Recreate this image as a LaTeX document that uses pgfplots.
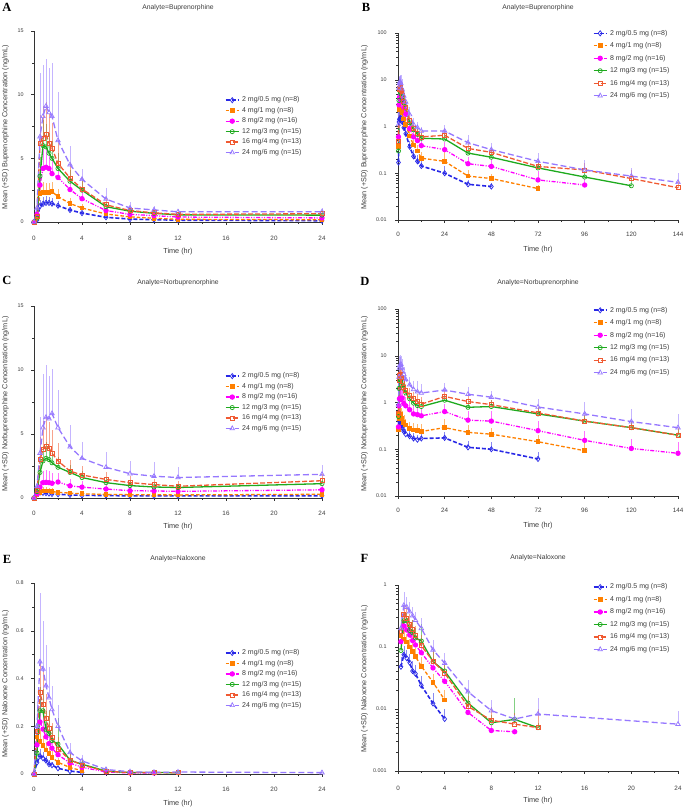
\documentclass[border=0pt]{standalone}
\usepackage{fontspec}
\setmainfont{Liberation Sans}
\newfontfamily\panelfont{Liberation Serif}
\usepackage{pgfplots}
\usepackage{pgfplotstable}
\pgfplotsset{compat=1.18}

\definecolor{cA}{RGB}{40,40,230}
\definecolor{cB}{RGB}{255,128,0}
\definecolor{cC}{RGB}{255,0,255}
\definecolor{cD}{RGB}{30,170,30}
\definecolor{cE}{RGB}{240,90,50}
\definecolor{cF}{RGB}{150,120,255}
\definecolor{ink}{RGB}{60,60,60}

% ---------------- Buprenorphine ----------------
\pgfplotstableread{
t m s
0 0 0
0.25 0.17 0.1
0.5 1.25 0.5
0.75 1.42 0.55
1 1.5 0.55
1.25 1.5 0.5
1.5 1.44 0.45
2 1.28 0.38
3 0.94 0.26
4 0.7 0.2
6 0.37 0.12
8 0.23 0.08
10 0.18 0.06
12 0.143 0.05
24 0.1 0.045
36 0.058 0.015
48 0.052 0.01
}\BuA
\pgfplotstableread{
t m s
0 0 0
0.25 0.38 0.2
0.5 2.25 0.8
0.75 2.32 0.85
1 2.3 0.8
1.25 2.32 0.75
1.5 2.38 0.75
2 2.0 0.6
3 1.45 0.42
4 1.1 0.35
6 0.63 0.2
8 0.4 0.12
10 0.3 0.1
12 0.21 0.08
24 0.18 0.15
36 0.087 0.03
48 0.077 0.02
72 0.047 0.01
}\BuB
\pgfplotstableread{
t m s
0 0 0
0.25 0.6 0.3
0.5 2.9 1.2
0.75 4.2 1.5
1 4.3 1.5
1.25 4.2 1.4
1.5 3.8 1.3
2 3.5 1.1
3 2.55 0.8
4 1.83 0.6
6 0.9 0.35
8 0.6 0.2
10 0.5 0.15
12 0.39 0.12
24 0.32 0.15
36 0.16 0.06
48 0.14 0.06
72 0.072 0.04
96 0.056 0.02
}\BuC
\pgfplotstableread{
t m s
0 0 0
0.25 0.3 0.2
0.5 3.6 1.5
0.75 6.0 2.0
1 5.9 1.8
1.25 5.4 1.6
1.5 5.0 1.4
2 4.2 1.2
3 3.2 0.9
4 2.5 0.7
6 1.2 0.35
8 0.85 0.25
10 0.68 0.2
12 0.56 0.15
24 0.54 0.15
36 0.27 0.08
48 0.22 0.06
72 0.13 0.04
96 0.083 0.03
120 0.054 0.02
}\BuD
\pgfplotstableread{
t m s
0 0 0
0.25 0.47 0.3
0.5 6.2 2.2
0.75 6.6 2.5
1 6.9 2.5
1.25 6.2 2.3
1.5 5.8 2.0
2 4.6 1.6
3 3.45 1.2
4 2.6 0.9
6 1.35 0.5
8 0.9 0.3
10 0.72 0.25
12 0.6 0.2
24 0.65 0.25
36 0.34 0.1
48 0.28 0.09
72 0.14 0.05
96 0.118 0.05
120 0.077 0.04
144 0.049 0.02
}\BuE
\pgfplotstableread{
t m s
0 0 0
0.25 1.1 0.8
0.5 6.7 5.0
0.75 8.3 4.0
1 9.1 3.7
1.25 8.6 3.5
1.5 8.3 4.2
2 6.4 3.8
3 4.5 1.5
4 3.35 0.8
6 1.8 0.85
8 1.1 0.45
10 0.95 0.3
12 0.8 0.2
24 0.8 0.3
36 0.45 0.2
48 0.32 0.12
72 0.18 0.09
96 0.118 0.07
120 0.087 0.04
144 0.064 0.035
}\BuF
% ---------------- Norbuprenorphine ----------------
\pgfplotstableread{
t m s
0 0 0
0.25 0.3 0.1
0.5 0.42 0.15
0.75 0.4 0.15
1 0.38 0.12
1.25 0.35 0.1
1.5 0.32 0.1
2 0.29 0.08
3 0.24 0.07
4 0.21 0.06
6 0.19 0.05
8 0.17 0.05
10 0.16 0.04
12 0.17 0.05
24 0.175 0.06
36 0.11 0.04
48 0.1 0.04
72 0.062 0.025
}\NoA
\pgfplotstableread{
t m s
0 0 0
0.25 0.26 0.08
0.5 0.45 0.2
0.75 0.55 0.3
1 0.55 0.3
1.25 0.55 0.25
1.5 0.5 0.25
2 0.45 0.2
3 0.38 0.15
4 0.33 0.12
6 0.28 0.1
8 0.26 0.1
10 0.25 0.1
12 0.24 0.1
24 0.29 0.15
36 0.23 0.1
48 0.21 0.08
72 0.145 0.06
96 0.093 0.04
}\NoB
\pgfplotstableread{
t m s
0 0 0
0.25 0.3 0.15
0.5 0.85 0.5
0.75 1.2 0.9
1 1.22 1.0
1.25 1.2 0.9
1.5 1.15 0.8
2 1.25 0.7
3 0.95 0.5
4 0.85 0.45
6 0.7 0.4
8 0.57 0.3
10 0.55 0.3
12 0.52 0.25
24 0.64 0.3
36 0.42 0.25
48 0.4 0.25
72 0.25 0.15
96 0.155 0.09
120 0.104 0.06
144 0.082 0.06
}\NoC
\pgfplotstableread{
t m s
0 0 0
0.25 0.5 0.3
0.5 2.0 0.8
0.75 2.9 1.2
1 3.1 1.3
1.25 3.0 1.1
1.5 2.75 0.9
2 2.4 0.8
3 2.0 0.6
4 1.6 0.5
6 1.2 0.4
8 0.97 0.35
10 0.86 0.3
12 0.82 0.3
24 1.12 0.4
36 0.79 0.3
48 0.82 0.3
72 0.57 0.2
96 0.4 0.15
120 0.29 0.1
144 0.2 0.07
}\NoD
\pgfplotstableread{
t m s
0 0 0
0.25 0.6 0.3
0.5 3.0 1.8
0.75 3.8 2.2
1 4.0 2.4
1.25 3.9 2.0
1.5 3.5 1.8
2 2.9 1.4
3 2.1 0.9
4 1.8 0.7
6 1.45 0.6
8 1.2 0.5
10 1.05 0.45
12 0.92 0.4
24 1.35 0.5
36 1.05 0.3
48 0.9 0.25
72 0.6 0.2
96 0.4 0.15
120 0.29 0.1
144 0.2 0.08
}\NoE
\pgfplotstableread{
t m s
0 0 0
0.25 0.9 0.3
0.5 3.5 2.8
0.75 5.5 4.2
1 6.3 4.1
1.25 6.2 3.3
1.5 6.6 3.5
2 5.5 2.9
3 4.0 1.7
4 3.1 1.3
6 2.4 1.2
8 1.9 1.0
10 1.7 1.15
12 1.6 0.85
24 1.85 0.75
36 1.5 0.6
48 1.3 0.45
72 0.8 0.4
96 0.57 0.45
120 0.39 0.35
144 0.29 0.28
}\NoF
% ---------------- Naloxone ----------------
\pgfplotstableread{
t m s
0 0 0
0.25 0.048 0.02
0.5 0.075 0.03
0.75 0.066 0.025
1 0.056 0.02
1.25 0.041 0.018
1.5 0.037 0.015
2 0.024 0.01
3 0.0123 0.006
4 0.0069 0.003
}\NaA
\pgfplotstableread{
t m s
0 0 0
0.25 0.155 0.05
0.5 0.135 0.05
0.75 0.12 0.04
1 0.1 0.035
1.25 0.085 0.03
1.5 0.07 0.025
2 0.049 0.02
3 0.027 0.01
4 0.014 0.006
}\NaB
\pgfplotstableread{
t m s
0 0 0
0.25 0.122 0.05
0.5 0.218 0.1
0.75 0.188 0.08
1 0.156 0.06
1.25 0.127 0.05
1.5 0.108 0.04
2 0.081 0.03
3 0.046 0.02
4 0.028 0.012
6 0.0088 0.004
8 0.0045 0.001
10 0.0043 0.0005
}\NaC
\pgfplotstableread{
t m s
0 0 0
0.25 0.088 0.04
0.5 0.265 0.1
0.75 0.265 0.09
1 0.185 0.08
1.25 0.17 0.1
1.5 0.14 0.06
2 0.125 0.11
3 0.058 0.03
4 0.041 0.02
6 0.0125 0.006
8 0.006 0.002
10 0.0068 0.008
12 0.005 0.001
}\NaD
\pgfplotstableread{
t m s
0 0 0
0.25 0.18 0.07
0.5 0.34 0.13
0.75 0.29 0.15
1 0.235 0.1
1.25 0.19 0.08
1.5 0.155 0.06
2 0.105 0.05
3 0.059 0.03
4 0.038 0.02
6 0.011 0.005
8 0.0066 0.004
10 0.0057 0.003
12 0.005 0.005
}\NaE
\pgfplotstableread{
t m s
0 0 0
0.25 0.2 0.1
0.5 0.47 0.29
0.75 0.44 0.2
1 0.37 0.17
1.25 0.32 0.13
1.5 0.27 0.1
2 0.2 0.09
3 0.09 0.04
4 0.055 0.025
6 0.019 0.01
8 0.0094 0.0045
10 0.0069 0.001
12 0.0083 0.0065
24 0.0057 0.0035
}\NaF

\pgfplotsset{
 ebar/.style={error bars/y dir=plus, error bars/y explicit, error bars/error mark=none,
   error bars/error bar style={#1, solid, line width=0.6pt, opacity=0.55}},
 sA/.style={cA, line width=1.6pt, dash pattern=on 4pt off 2pt, mark=diamond, mark size=2.6pt, mark options={solid, line width=0.7pt}, ebar=cA},
 sB/.style={cB, line width=1.3pt, dash pattern=on 3.5pt off 2pt, mark=square*, mark size=1.7pt, mark options={solid, fill=cB}, ebar=cB},
 sC/.style={cC, line width=1.3pt, dash pattern=on 4pt off 1.5pt on 1pt off 1.5pt on 1pt off 1.5pt, mark=*, mark size=2pt, mark options={solid, fill=cC}, ebar=cC},
 sD/.style={cD, line width=1.3pt, solid, mark=o, mark size=2.1pt, mark options={solid, line width=0.7pt}, ebar=cD},
 sE/.style={cE, line width=1.3pt, dash pattern=on 5pt off 2pt, mark=square, mark size=2pt, mark options={solid, line width=0.7pt}, ebar=cE},
 sF/.style={cF, line width=1.3pt, dash pattern=on 6pt off 3pt, mark=triangle, mark size=2.6pt, mark options={solid, line width=0.7pt}, ebar=cF},
 pk/.style={
  scale only axis,
  axis x line*=bottom, axis y line*=left,
  axis line style={-, black!80, line width=0.8pt},
  tick align=outside,
  major tick length=2.8pt, minor tick length=1.6pt,
  every tick/.append style={black!80, line width=0.5pt},
  xticklabel style={font=\fontsize{6.3}{7}\selectfont, text=ink},
  yticklabel style={font=\fontsize{5.4}{6}\selectfont, text=ink},
  /pgf/number format/assume math mode=true,
  clip=false,
  title style={font=\fontsize{6.8}{8}\selectfont, text=ink, at={(0.5,1)}, anchor=center},
  xlabel style={font=\fontsize{7.3}{8}\selectfont, text=ink, at={(0.5,0)}, anchor=center},
  legend style={draw=none, fill=none, inner sep=0pt, outer sep=0pt, font=\fontsize{7}{8}\selectfont, text=ink, anchor=north west, column sep=2pt, nodes={inner sep=0.6pt}},
  legend cell align=left,
  legend image code/.code={\draw[mark repeat=2,mark phase=2,##1] plot coordinates {(0pt,0pt) (6.5pt,0pt) (13pt,0pt)};},
 },
 lin24/.style={pk, width=288pt, xmin=0, xmax=24, xtick={0,4,...,24}, minor x tick num=1,
   restrict x to domain=0:24, ymin=0, minor y tick num=1,
   legend style={at={(0.663,0.658)}, row sep=2.7pt}},
 log144/.style={pk, width=280pt, xmin=0, xmax=144, xtick={0,24,...,144}, minor x tick num=1,
   ymin=0.01, ymax=100, ytick={0.01,0.1,1,10,100}, yticklabels={0.01,0.1,1,10,100},
   minor ytick={0.02,0.03,0.04,0.05,0.06,0.07,0.08,0.09,0.2,0.3,0.4,0.5,0.6,0.7,0.8,0.9,2,3,4,5,6,7,8,9,20,30,40,50,60,70,80,90},
   legend style={row sep=4.7pt}},
}
\newcommand{\legs}{\legend{2 mg/0.5 mg (n=8),4 mg/1 mg (n=8),8 mg/2 mg (n=16),12 mg/3 mg (n=15),16 mg/4 mg (n=13),24 mg/6 mg (n=15)}}
\newcommand{\ylab}[3]{\node[rotate=90, font=\fontsize{7.3}{8}\selectfont, text=ink] at (#1pt,-#2pt) {Mean (+SD) #3 Concentration (ng/mL)};}
\newcommand{\plab}[3]{\node[font=\panelfont\fontsize{12.5}{13}\selectfont\bfseries] at (#1pt,-#2pt) {#3};}

\begin{document}
\begin{tikzpicture}
\useasboundingbox (0pt,0pt) rectangle (685pt,-809pt);

% A
\begin{axis}[lin24, at={(34pt,-222pt)}, anchor=south west, height=191pt,
  ymax=15, ytick={0,5,10,15},
  title={Analyte=Buprenorphine}, title style={yshift=17.3pt},
  xlabel={Time (hr)}, xlabel style={yshift=-30pt},
  xticklabel style={yshift=-8pt}, yticklabel style={xshift=-4pt}]
\addplot[sA] table[x=t,y=m,y error=s]{\BuA};
\addplot[sB] table[x=t,y=m,y error=s]{\BuB};
\addplot[sC] table[x=t,y=m,y error=s]{\BuC};
\addplot[sD] table[x=t,y=m,y error=s]{\BuD};
\addplot[sE] table[x=t,y=m,y error=s]{\BuE};
\addplot[sF] table[x=t,y=m,y error=s]{\BuF};
\legs
\end{axis}

% B
\begin{semilogyaxis}[log144, at={(398pt,-220pt)}, anchor=south west, height=187pt,
  title={Analyte=Buprenorphine}, title style={yshift=19.3pt},
  xlabel={Time (hr)}, xlabel style={yshift=-30pt},
  xticklabel style={yshift=-6pt}, yticklabel style={xshift=-5pt},
  legend style={at={(0.696,1.019)}}]
\addplot[sA] table[x=t,y=m,y error=s]{\BuA};
\addplot[sB] table[x=t,y=m,y error=s]{\BuB};
\addplot[sC] table[x=t,y=m,y error=s]{\BuC};
\addplot[sD] table[x=t,y=m,y error=s]{\BuD};
\addplot[sE] table[x=t,y=m,y error=s]{\BuE};
\addplot[sF] table[x=t,y=m,y error=s]{\BuF};
\legs
\end{semilogyaxis}

% C
\begin{axis}[lin24, at={(34pt,-498pt)}, anchor=south west, height=192pt,
  ymax=15, ytick={0,5,10,15},
  title={Analyte=Norbuprenorphine}, title style={yshift=17pt},
  xlabel={Time (hr)}, xlabel style={yshift=-29pt},
  xticklabel style={yshift=-7pt}, yticklabel style={xshift=-4pt},
  legend style={at={(0.663,0.655)}}]
\addplot[sA] table[x=t,y=m,y error=s]{\NoA};
\addplot[sB] table[x=t,y=m,y error=s]{\NoB};
\addplot[sC] table[x=t,y=m,y error=s]{\NoC};
\addplot[sD] table[x=t,y=m,y error=s]{\NoD};
\addplot[sE] table[x=t,y=m,y error=s]{\NoE};
\addplot[sF] table[x=t,y=m,y error=s]{\NoF};
\legs
\end{axis}

% D
\begin{semilogyaxis}[log144, at={(398pt,-496pt)}, anchor=south west, height=187pt,
  title={Analyte=Norbuprenorphine}, title style={yshift=20pt},
  xlabel={Time (hr)}, xlabel style={yshift=-30pt},
  xticklabel style={yshift=-6pt}, yticklabel style={xshift=-5pt},
  legend style={at={(0.696,1.014)}}]
\addplot[sA] table[x=t,y=m,y error=s]{\NoA};
\addplot[sB] table[x=t,y=m,y error=s]{\NoB};
\addplot[sC] table[x=t,y=m,y error=s]{\NoC};
\addplot[sD] table[x=t,y=m,y error=s]{\NoD};
\addplot[sE] table[x=t,y=m,y error=s]{\NoE};
\addplot[sF] table[x=t,y=m,y error=s]{\NoF};
\legs
\end{semilogyaxis}

% E
\begin{axis}[lin24, at={(34pt,-774pt)}, anchor=south west, height=191pt,
  ymax=0.8, ytick={0,0.2,0.4,0.6,0.8},
  title={Analyte=Naloxone}, title style={yshift=18pt},
  xlabel={Time (hr)}, xlabel style={yshift=-30pt},
  xticklabel style={yshift=-7pt}, yticklabel style={xshift=-4pt},
  legend style={at={(0.663,0.654)}}]
\addplot[sA] table[x=t,y=m,y error=s]{\NaA};
\addplot[sB] table[x=t,y=m,y error=s]{\NaB};
\addplot[sC] table[x=t,y=m,y error=s]{\NaC};
\addplot[sD] table[x=t,y=m,y error=s]{\NaD};
\addplot[sE] table[x=t,y=m,y error=s]{\NaE};
\addplot[sF] table[x=t,y=m,y error=s]{\NaF};
\legs
\end{axis}

% F
\begin{semilogyaxis}[pk, at={(398pt,-771pt)}, anchor=south west, width=280pt, height=186pt,
  xmin=0, xmax=24, xtick={0,4,...,24}, minor x tick num=1,
  ymin=0.001, ymax=1, ytick={0.001,0.01,0.1,1}, yticklabels={0.001,0.01,0.1,1},
  minor ytick={0.002,0.003,0.004,0.005,0.006,0.007,0.008,0.009,0.02,0.03,0.04,0.05,0.06,0.07,0.08,0.09,0.2,0.3,0.4,0.5,0.6,0.7,0.8,0.9},
  title={Analyte=Naloxone}, title style={yshift=21pt},
  xlabel={Time (hr)}, xlabel style={yshift=-30pt},
  xticklabel style={yshift=-9pt}, yticklabel style={xshift=-5pt},
  legend style={at={(0.696,1.01)}, row sep=4.7pt}]
\addplot[sA] table[x=t,y=m,y error=s]{\NaA};
\addplot[sB] table[x=t,y=m,y error=s]{\NaB};
\addplot[sC] table[x=t,y=m,y error=s]{\NaC};
\addplot[sD] table[x=t,y=m,y error=s]{\NaD};
\addplot[sE] table[x=t,y=m,y error=s]{\NaE};
\addplot[sF] table[x=t,y=m,y error=s]{\NaF};
\legs
\end{semilogyaxis}

\ylab{5.5}{127}{Buprenorphine}
\ylab{364.5}{127.5}{Buprenorphine}
\ylab{5.5}{404}{Norbuprenorphine}
\ylab{364.5}{404}{Norbuprenorphine}
\ylab{5.5}{684}{Naloxone}
\ylab{364.5}{679}{Naloxone}

\plab{7}{7}{A}
\plab{366}{7}{B}
\plab{7}{280}{C}
\plab{365}{281.5}{D}
\plab{7}{559}{E}
\plab{364.5}{558.5}{F}
\end{tikzpicture}
\end{document}
